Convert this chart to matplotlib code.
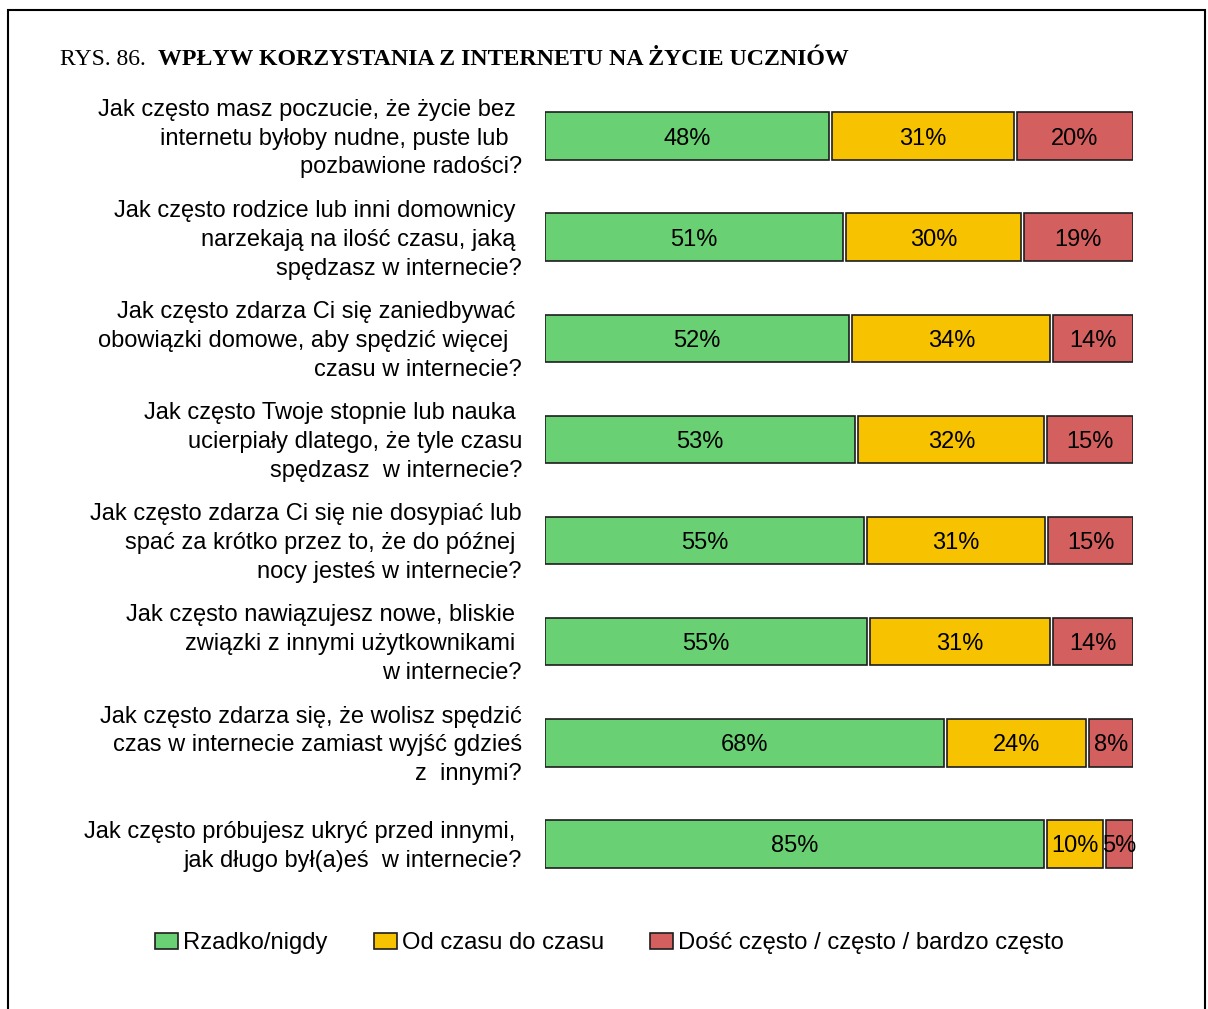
import numpy as np
import matplotlib.pyplot as plt
from matplotlib.patches import Rectangle

# Dane z wykresu (odsetki odpowiedzi)
pytania = [
    "Jak często masz poczucie, że życie bez \ninternetu byłoby nudne, puste lub  \npozbawione radości?",
    "Jak często rodzice lub inni domownicy \nnarzekają na ilość czasu, jaką \nspędzasz w internecie?",
    "Jak często zdarza Ci się zaniedbywać \nobowiązki domowe, aby spędzić więcej  \nczasu w internecie?",
    "Jak często Twoje stopnie lub nauka \nucierpiały dlatego, że tyle czasu\nspędzasz  w internecie?",
    "Jak często zdarza Ci się nie dosypiać lub\nspać za krótko przez to, że do późnej \nnocy jesteś w internecie?",
    "Jak często nawiązujesz nowe, bliskie \nzwiązki z innymi użytkownikami \nw internecie?",
    "Jak często zdarza się, że wolisz spędzić\nczas w internecie zamiast wyjść gdzieś\nz  innymi?",
    "Jak często próbujesz ukryć przed innymi, \njak długo był(a)eś  w internecie?",
]
rzadko = [48, 51, 52, 53, 55, 55, 68, 85]
czasami = [31, 30, 34, 32, 31, 31, 24, 10]
czesto = [20, 19, 14, 15, 15, 14, 8, 5]
kategorie = ["Rzadko/nigdy", "Od czasu do czasu", "Dość często / często / bardzo często"]
kolory = ["#69D073", "#F7C300", "#D35F5F"]

plt.rcParams['font.family'] = ['Liberation Sans', 'DejaVu Sans']

fig = plt.figure(figsize=(12.08, 10.09), dpi=100)
ax = fig.add_axes([545 / 1208, 1 - 894.5 / 1009, 588 / 1208, 809 / 1009])

dane = np.array([rzadko, czasami, czesto], dtype=float)
dane = dane / dane.sum(axis=0) * 100  # każdy pasek do 100%
y = np.arange(len(pytania))
odstep = 0.5
lewo = np.zeros(len(pytania))
uchwyty = []
for i in range(3):
    b = ax.barh(y, dane[i] - odstep, left=lewo, height=0.47, color=kolory[i],
                edgecolor="#1e1e1e", linewidth=1.2)
    uchwyty.append(b)
    for j in range(len(pytania)):
        wart = [rzadko, czasami, czesto][i][j]
        ax.text(lewo[j] + (dane[i][j] - odstep) / 2, y[j], f"{wart}%",
                ha="center", va="center_baseline", fontsize=17)
    lewo += dane[i]

ax.set_xlim(0, 100 - odstep)
ax.set_ylim(len(pytania) - 0.5, -0.5)
ax.axis("off")

for j, tekst in enumerate(pytania):
    ax.text(-23 / 5.88, y[j] + 0.025, tekst, ha="right", va="center", multialignment="right",
            fontsize=17, linespacing=1.4)

# Tytuł
fig.text(60 / 1208, 1 - 65 / 1009, "RYS. 86.", family="Liberation Serif", fontsize=17,
         va="baseline")
fig.text(158 / 1208, 1 - 65 / 1009, "WPŁYW KORZYSTANIA Z INTERNETU NA ŻYCIE UCZNIÓW",
         family="Liberation Serif", fontsize=17.2, fontweight="bold", va="baseline")

# Legenda
fig.legend(uchwyty, kategorie, loc="center left", bbox_to_anchor=(155 / 1208, 1 - 943 / 1009),
           ncol=3, frameon=False, fontsize=17.1, handlelength=0.97, handleheight=0.68,
           handletextpad=0.21, columnspacing=1.95, borderpad=0, borderaxespad=0)

# Ramka
fig.patches.append(Rectangle((8 / 1208, -0.1), 1197 / 1208, 1.1 - 10 / 1009,
                             transform=fig.transFigure, fill=False, edgecolor="black",
                             linewidth=1.5))

fig.savefig("out.png", dpi=100)
